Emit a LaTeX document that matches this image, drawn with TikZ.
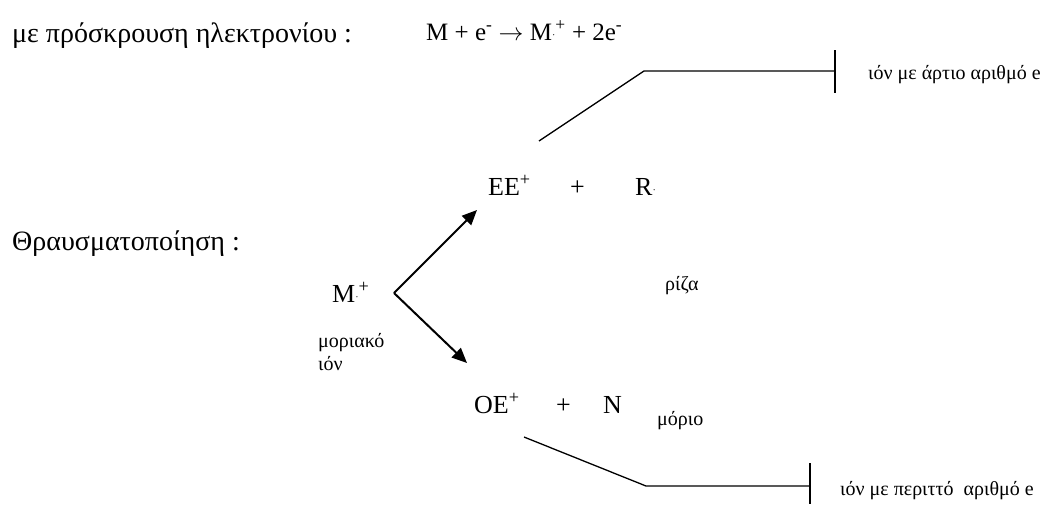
\documentclass[tikz,border=0pt]{standalone}
\usepackage{fontspec}
\setmainfont{Liberation Serif}
\usetikzlibrary{arrows.meta}
\newcommand\raddot{{\fontsize{10}{10}\selectfont\raisebox{0.15em}{·}}}
\begin{document}
\begin{tikzpicture}[x=1pt,y=-1pt,
  title/.style={anchor=base west,inner sep=0pt,font=\fontsize{28}{30}\selectfont},
  chem/.style={anchor=base west,inner sep=0pt,font=\fontsize{26}{28}\selectfont},
  eqn/.style={anchor=base west,inner sep=0pt,font=\fontsize{25}{28}\selectfont},
  lbl/.style={anchor=base west,inner sep=0pt,font=\fontsize{20}{23}\selectfont},
  lin/.style={line width=1.3pt},
  arr/.style={line width=2pt,-{Triangle[length=15pt,width=13pt]}}]
\useasboundingbox (0,0) rectangle (1056,504);

% titles
\node[title] (t1) at (12,42) {με πρόσκρουση ηλεκτρονίου :};
\node[eqn] (eq) at (426,40) {M + e\textsuperscript{-} $\rightarrow$ M\raddot\textsuperscript{+} + 2e\textsuperscript{-}};
\node[title] (t2) at (12,250) {Θραυσματοποίηση :};

% molecular ion
\node[chem] (m) at (332,302) {M\raddot\textsuperscript{+}};
\node[lbl] (mi1) at (318,347) {μοριακό};
\node[lbl] (mi2) at (318,370) {ιόν};

% upper products
\node[chem] (ee) at (488,195) {EE\textsuperscript{+}};
\node[chem] (p1) at (570,195) {+};
\node[chem] (r) at (635,195) {R\raddot};
\node[lbl] (riza) at (665,290) {ρίζα};

% lower products
\node[chem] (oe) at (474,413) {OE\textsuperscript{+}};
\node[chem] (p2) at (556,413) {+};
\node[chem] (n) at (603,413) {N};
\node[lbl] (morio) at (657,425) {μόριο};

% arrows
\coordinate (c) at (394,293);
\coordinate (upTip) at (477,210);
\coordinate (dnTip) at (467,363);
\draw[arr] (c) -- (upTip);
\draw[arr] (c) -- (dnTip);

% upper bracket line
\coordinate (u0) at (539,141);
\coordinate (u1) at (644,71);
\coordinate (u2) at (835,71);
\coordinate (ut) at (835,50);
\coordinate (ub) at (835,93);
\draw[lin] (u0) -- (u1) -- (u2);
\draw[lin] (ut) -- (ub);
\node[lbl] (even) at (868,79) {ιόν με άρτιο αριθμό e};

% lower bracket line
\coordinate (l0) at (524,437);
\coordinate (l1) at (646,486);
\coordinate (l2) at (810,486);
\coordinate (lt) at (810,463);
\coordinate (lb) at (810,504);
\draw[lin] (l0) -- (l1) -- (l2);
\draw[lin] (lt) -- (lb);
\node[lbl] (odd) at (840,495) {ιόν με περιττό\ \ αριθμό e};
\end{tikzpicture}
\end{document}
